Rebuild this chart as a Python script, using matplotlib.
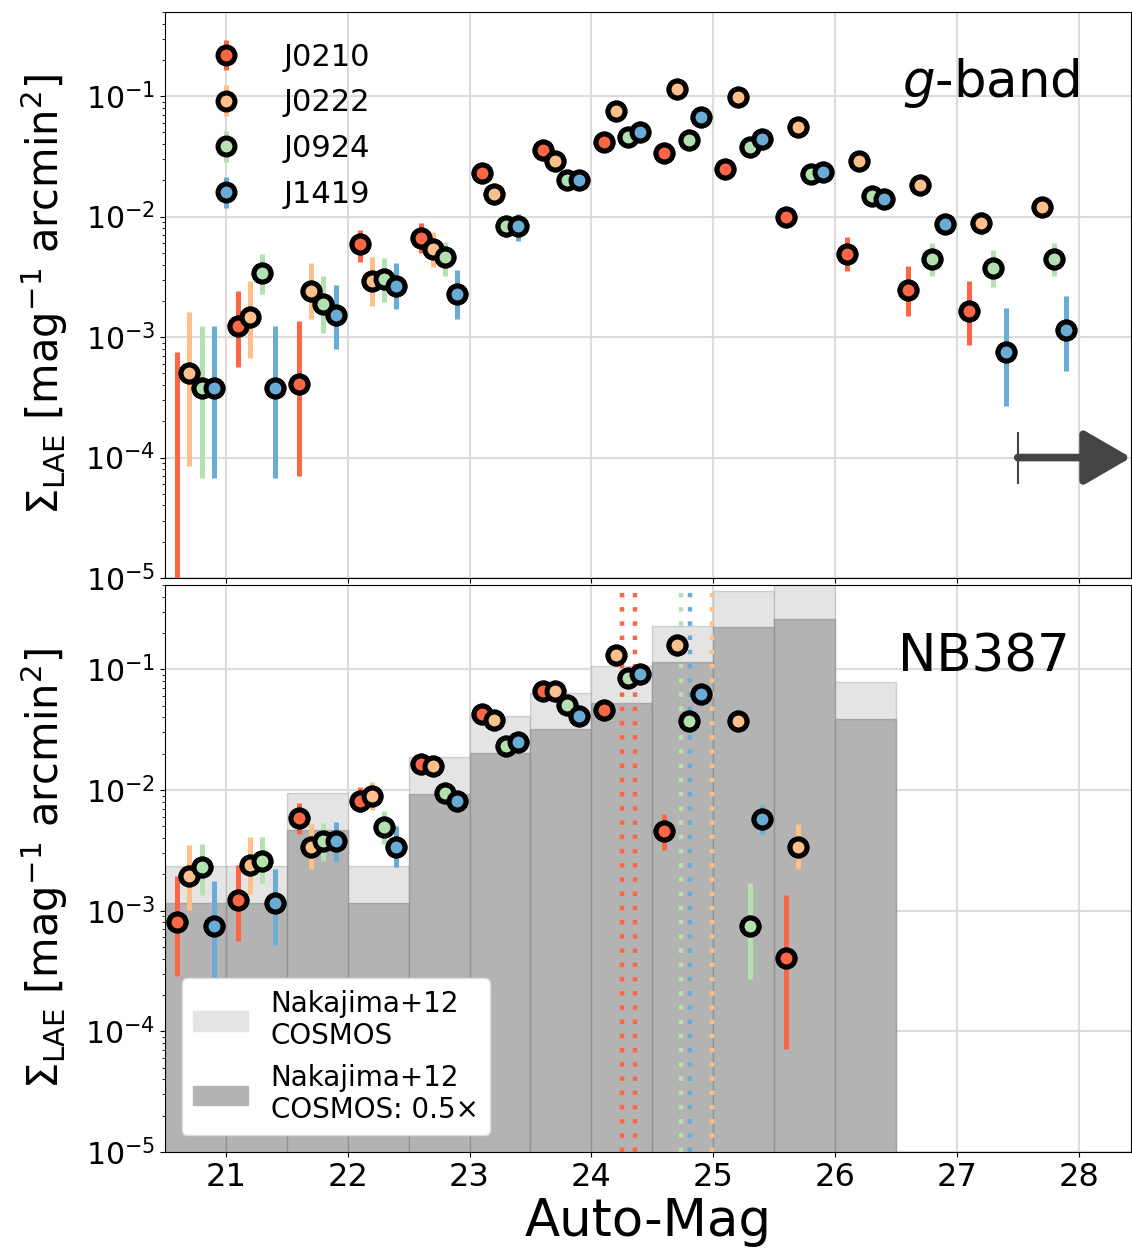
import numpy as np
import matplotlib
matplotlib.use("Agg")
import matplotlib.pyplot as plt
from matplotlib.patches import Patch

# ---------------- data ----------------
fields = ["J0210", "J0222", "J0924", "J1419"]
colors = ["#fb6647", "#fdc08a", "#b3e2b0", "#69acd5"]
offsets = [-0.15, -0.05, 0.05, 0.15]

g_centers = [20.75, 21.25, 21.75, 22.25, 22.75, 23.25, 23.75, 24.25,
             24.75, 25.25, 25.75, 26.25, 26.75, 27.25, 27.75]
nan = np.nan
g_val = {
    "J0210": [5e-6, 1.23e-3, 4.1e-4, 5.9e-3, 6.6e-3, 2.3e-2, 3.55e-2, 4.2e-2, 3.35e-2, 2.5e-2, 1.0e-2, 4.9e-3, 2.45e-3, 1.64e-3, nan],
    "J0222": [5.0e-4, 1.47e-3, 2.4e-3, 2.9e-3, 5.4e-3, 1.53e-2, 2.9e-2, 7.5e-2, 0.114, 9.8e-2, 5.6e-2, 2.88e-2, 1.82e-2, 8.9e-3, 1.2e-2],
    "J0924": [3.76e-4, 3.4e-3, 1.9e-3, 3.05e-3, 4.6e-3, 8.3e-3, 2.0e-2, 4.6e-2, 4.3e-2, 3.8e-2, 2.24e-2, 1.47e-2, 4.46e-3, 3.75e-3, 4.46e-3],
    "J1419": [3.76e-4, 3.76e-4, 1.52e-3, 2.66e-3, 2.3e-3, 8.3e-3, 2.03e-2, 5.0e-2, 6.7e-2, 4.45e-2, 2.33e-2, 1.39e-2, 8.7e-3, 7.5e-4, 1.15e-3],
}
g_lo = {
    "J0210": [1e-6, 5.6e-4, 7e-5, 4.2e-3, 5.0e-3, 2.0e-2, 3.1e-2, 3.7e-2, 2.9e-2, 2.15e-2, 8.2e-3, 3.55e-3, 1.5e-3, 8.6e-4, nan],
    "J0222": [8.5e-5, 6.7e-4, 1.4e-3, 1.8e-3, 3.8e-3, 1.25e-2, 2.5e-2, 6.8e-2, 0.104, 8.9e-2, 5.0e-2, 2.5e-2, 1.55e-2, 7.0e-3, 1.0e-2],
    "J0924": [6.7e-5, 2.3e-3, 1.08e-3, 1.97e-3, 3.2e-3, 6.6e-3, 1.75e-2, 4.2e-2, 3.9e-2, 3.4e-2, 1.95e-2, 1.25e-2, 3.2e-3, 2.6e-3, 3.2e-3],
    "J1419": [6.7e-5, 6.7e-5, 7.9e-4, 1.7e-3, 1.4e-3, 6.3e-3, 1.75e-2, 4.6e-2, 6.1e-2, 4.05e-2, 2.05e-2, 1.2e-2, 7.2e-3, 2.7e-4, 5.2e-4],
}
g_hi = {
    "J0210": [7.5e-4, 2.4e-3, 1.36e-3, 7.8e-3, 8.8e-3, 2.65e-2, 4.0e-2, 4.7e-2, 3.8e-2, 2.9e-2, 1.2e-2, 6.8e-3, 3.9e-3, 2.9e-3, nan],
    "J0222": [1.62e-3, 2.9e-3, 4.1e-3, 4.6e-3, 7.5e-3, 1.85e-2, 3.3e-2, 8.2e-2, 0.125, 0.107, 6.2e-2, 3.3e-2, 2.1e-2, 1.1e-2, 1.4e-2],
    "J0924": [1.23e-3, 4.9e-3, 3.2e-3, 4.5e-3, 6.2e-3, 1.0e-2, 2.3e-2, 5.0e-2, 4.7e-2, 4.2e-2, 2.55e-2, 1.7e-2, 6.1e-3, 5.3e-3, 6.1e-3],
    "J1419": [1.23e-3, 1.23e-3, 2.7e-3, 4.1e-3, 3.6e-3, 1.05e-2, 2.35e-2, 5.4e-2, 7.3e-2, 4.9e-2, 2.6e-2, 1.6e-2, 1.05e-2, 1.75e-3, 2.2e-3],
}

nb_centers = [20.75, 21.25, 21.75, 22.25, 22.75, 23.25, 23.75, 24.25,
              24.75, 25.25, 25.75]
nb_val = {
    "J0210": [8.1e-4, 1.23e-3, 5.85e-3, 8.1e-3, 1.65e-2, 4.3e-2, 6.6e-2, 4.6e-2, 4.6e-3, nan, 4.05e-4],
    "J0222": [1.94e-3, 2.4e-3, 3.4e-3, 8.9e-3, 1.58e-2, 3.8e-2, 6.6e-2, 0.131, 0.16, 3.7e-2, 3.4e-3],
    "J0924": [2.28e-3, 2.6e-3, 3.76e-3, 4.9e-3, 9.4e-3, 2.33e-2, 5.1e-2, 8.4e-2, 3.76e-2, 7.4e-4, nan],
    "J1419": [7.5e-4, 1.15e-3, 3.8e-3, 3.4e-3, 8.1e-3, 2.5e-2, 4.07e-2, 9.1e-2, 6.3e-2, 5.8e-3, nan],
}
nb_lo = {
    "J0210": [2.9e-4, 5.6e-4, 4.3e-3, 6.6e-3, 1.4e-2, 3.8e-2, 6.0e-2, 4.2e-2, 3.2e-3, nan, 7.2e-5],
    "J0222": [1.02e-3, 1.38e-3, 2.2e-3, 6.8e-3, 1.35e-2, 3.35e-2, 6.0e-2, 0.12, 0.15, 3.3e-2, 2.2e-3],
    "J0924": [1.36e-3, 1.68e-3, 2.6e-3, 3.6e-3, 7.9e-3, 2.05e-2, 4.6e-2, 7.8e-2, 3.4e-2, 2.7e-4, nan],
    "J1419": [2.7e-4, 5.2e-4, 2.6e-3, 2.3e-3, 6.8e-3, 2.2e-2, 3.65e-2, 8.5e-2, 5.8e-2, 4.3e-3, nan],
}
nb_hi = {
    "J0210": [1.92e-3, 2.4e-3, 7.8e-3, 1.06e-2, 1.9e-2, 4.8e-2, 7.2e-2, 5.0e-2, 6.3e-3, nan, 1.36e-3],
    "J0222": [3.5e-3, 4.06e-3, 5.2e-3, 1.17e-2, 1.85e-2, 4.3e-2, 7.2e-2, 0.142, 0.17, 4.1e-2, 5.2e-3],
    "J0924": [3.6e-3, 4.06e-3, 5.3e-3, 6.7e-3, 1.1e-2, 2.6e-2, 5.6e-2, 9.0e-2, 4.15e-2, 1.7e-3, nan],
    "J1419": [1.75e-3, 2.2e-3, 5.4e-3, 5.0e-3, 9.6e-3, 2.8e-2, 4.5e-2, 9.7e-2, 6.8e-2, 7.5e-3, nan],
}

cosmos_left = [20.5, 21.0, 21.5, 22.0, 22.5, 23.0, 23.5, 24.0, 24.5, 25.0, 25.5, 26.0]
cosmos_val = [2.33e-3, 2.33e-3, 9.4e-3, 2.33e-3, 1.87e-2, 4.07e-2, 6.4e-2,
              0.106, 0.23, 0.45, 0.52, 7.8e-2]
cosmos_scale = 0.5

nb_limits = {"J0210": [24.25, 24.36], "J0222": [24.99], "J0924": [24.74], "J1419": [24.81]}
g_limit_start = 27.5
g_limit_level = 1e-4

xticks = [21, 22, 23, 24, 25, 26, 27, 28]

# ---------------- figure ----------------
W, H = 1132, 1253
fig = plt.figure(figsize=(W / 100, H / 100), dpi=100)
L, R = 165 / W, 1131 / W
ax1 = fig.add_axes([L, 1 - 578 / H, R - L, (578 - 12) / H])
ax2 = fig.add_axes([L, 1 - 1152 / H, R - L, (1152 - 585) / H], sharex=ax1)

MS, MEW, ELW = 12.2, 3.6, 3.6
ylabel = r'$\Sigma_{\rm LAE}$ [mag$^{-1}$ arcmin$^2$]'


def draw_points(ax, centers, vals, los, his):
    handles = []
    for f, c, off in zip(fields, colors, offsets):
        x = np.array(centers) + off
        v = np.array(vals[f], dtype=float)
        lo = np.array(los[f], dtype=float)
        hi = np.array(his[f], dtype=float)
        yerr = [v - lo, hi - v]
        h = ax.errorbar(x, v, yerr=yerr, fmt='o', ms=MS, mfc=c, mec='k', mew=MEW,
                        ecolor=c, elinewidth=ELW, capsize=0, zorder=3, label=f)
        handles.append(h)
    for f, c, off in zip(fields, colors, offsets):
        x = np.array(centers) + off
        ax.plot(x, vals[f], 'o', ms=MS, mfc=c, mec='k', mew=MEW, zorder=5)
    return handles


for ax in (ax1, ax2):
    ax.set_yscale('log')
    ax.set_ylim(1e-5, 0.5)
    ax.set_xlim(20.5, 28.43)
    ax.grid(True, which='major', color='#dcdcdc', lw=1.5)
    ax.set_axisbelow(True)
    ax.set_ylabel(ylabel, fontsize=30, labelpad=11)
    ax.tick_params(axis='y', labelsize=21.5)
    ax.tick_params(axis='x', labelsize=23)
    ax.set_xticks(xticks)

# top panel
hs = draw_points(ax1, g_centers, g_val, g_lo, g_hi)
leg = ax1.legend(handles=hs, loc='upper left', frameon=False, fontsize=22,
                 handletextpad=0.87, borderaxespad=0.6, labelspacing=0.55)
ax1.text(0.947, 0.85, r'$g$-band', transform=ax1.transAxes, ha='right',
         va='baseline', fontsize=37)
ax1.plot([g_limit_start, g_limit_start], [g_limit_level * 0.61, g_limit_level * 1.6],
         color='#444444', lw=1.5, zorder=6)
ax1.annotate('', xy=(28.43, g_limit_level), xytext=(g_limit_start, g_limit_level),
             arrowprops=dict(arrowstyle='-|>,head_length=0.5,head_width=0.29',
                             mutation_scale=58, lw=5.5, color='#444444',
                             shrinkA=0, shrinkB=0),
             annotation_clip=False, zorder=6)
plt.setp(ax1.get_xticklabels(), visible=False)

# bottom panel
ax2.bar(cosmos_left, cosmos_val, width=0.5, align='edge', color='#e4e4e4',
        edgecolor=(0.55, 0.55, 0.55, 0.35), lw=1.0, zorder=1)
ax2.bar(cosmos_left, np.array(cosmos_val) * cosmos_scale, width=0.5, align='edge',
        color='#b3b3b3', edgecolor=(0.45, 0.45, 0.45, 0.4), lw=1.0, zorder=1.1)
for f, c in zip(fields, colors):
    for lim in nb_limits[f]:
        ax2.axvline(lim, color=c, lw=3.2, ls=(0, (1, 2.2)), zorder=2)
draw_points(ax2, nb_centers, nb_val, nb_lo, nb_hi)
ax2.text(0.937, 0.847, 'NB387', transform=ax2.transAxes, ha='right',
         va='baseline', fontsize=37)
leg2 = ax2.legend(handles=[Patch(color='#e4e4e4', label='Nakajima+12\nCOSMOS'),
                           Patch(color='#b3b3b3', label='Nakajima+12\nCOSMOS: 0.5×')],
                  loc='lower left', fontsize=20, framealpha=1, edgecolor='#dddddd',
                  borderaxespad=0.6, handletextpad=0.8)
leg2.set_zorder(10)
ax2.set_xlabel('Auto-Mag', fontsize=37, labelpad=3)

fig.savefig('out.png', dpi=100)
